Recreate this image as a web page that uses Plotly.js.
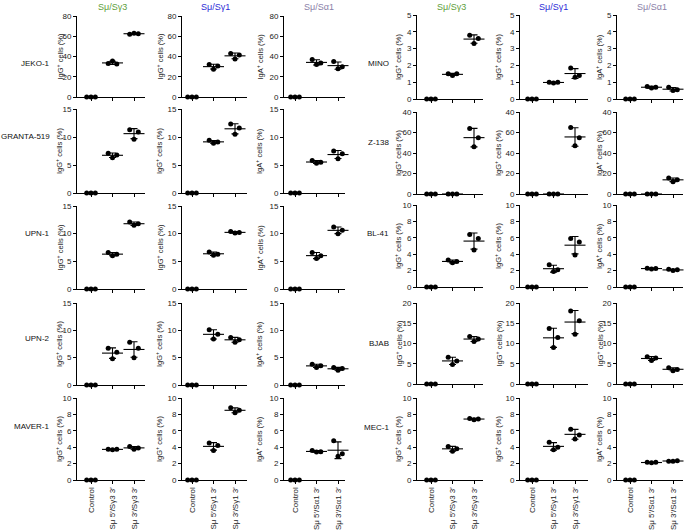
<!DOCTYPE html>
<html><head><meta charset="utf-8">
<script src="https://cdn.plot.ly/plotly-3.0.1.min.js"></script>
<style>body{margin:0;background:#fff}</style>
</head><body><div id="chart" style="width:685px;height:531px"></div>
<script>
const W = 685, H = 531;

// ---- text ----
const columnTitles = ['Sμ/Sγ3', 'Sμ/Sγ1', 'Sμ/Sα1', 'Sμ/Sγ3', 'Sμ/Sγ1', 'Sμ/Sα1'];
const leftCellLines = ['JEKO-1', 'GRANTA-519', 'UPN-1', 'UPN-2', 'MAVER-1'];
const rightCellLines = ['MINO', 'Z-138', 'BL-41', 'BJAB', 'MEC-1'];
const categoriesG3 = ['Control', 'Sμ 5′/Sγ3 3′', 'Sμ 3′/Sγ3 3′'];
const categoriesG1 = ['Control', 'Sμ 5′/Sγ1 3′', 'Sμ 3′/Sγ1 3′'];
const categoriesA1 = ['Control', 'Sμ 5′/Sα1 3′', 'Sμ 3′/Sα1 3′'];
const labelIgG = 'IgG<sup>+</sup> cells (%)';
const labelIgA = 'IgA<sup>+</sup> cells (%)';

// ---- values (% positive cells): [Control], [Sμ 5′/S 3′], [Sμ 3′/S 3′] ----
const jeko1_g3 = [[0,0,0],[33,35.5,32.5],[62,63,62.5]];
const jeko1_g1 = [[0,0,0],[32,27.5,30.5],[43,37.5,41.5]];
const jeko1_a1 = [[0,0,0],[37,32,33.5],[35,28,30]];
const granta_g3 = [[0,0,0],[7.1,6.3,6.8],[11.3,9.6,10.9]];
const granta_g1 = [[0,0,0],[9.4,8.9,9.1],[12.3,10.5,11.6]];
const granta_a1 = [[0,0,0],[5.8,5.3,5.5],[7.5,6.1,7.0]];
const upn1_g3 = [[0,0,0],[6.6,6.0,6.3],[12.1,11.5,11.8]];
const upn1_g1 = [[0,0,0],[6.7,6.1,6.3],[10.4,10.1,10.2]];
const upn1_a1 = [[0,0,0],[6.6,5.5,6.0],[11.2,10.0,10.6]];
const upn2_g3 = [[0,0,0],[6.7,4.8,6.0],[7.8,5.0,6.7]];
const upn2_g1 = [[0,0,0],[10.1,8.4,9.3],[8.7,7.8,8.3]];
const upn2_a1 = [[0,0,0],[3.8,3.2,3.5],[3.2,2.7,3.0]];
const maver1_g3 = [[0,0,0],[3.75,3.7,3.75],[4.1,3.75,3.9]];
const maver1_g1 = [[0,0,0],[4.5,3.6,4.2],[8.8,8.2,8.5]];
const maver1_a1 = [[0,0,0],[3.6,3.4,3.45],[4.8,2.9,3.2]];

const mino_g3 = [[0,0,0],[1.5,1.4,1.5],[3.8,3.3,3.6]];
const mino_g1 = [[0,0,0],[1.0,0.95,1.0],[1.85,1.3,1.4]];
const mino_a1 = [[0,0,0],[0.75,0.65,0.7],[0.7,0.5,0.55]];
const z138_g3 = [[0,0,0],[0,0,0],[64,46,55]];
const z138_g1 = [[0,0,0],[0,0,0],[65,47,55]];
const z138_a1 = [[0,0,0],[0,0,0],[15.5,12,14]];
const bl41_g3 = [[0,0,0],[3.3,2.95,3.1],[6.4,4.5,5.9]];
const bl41_g1 = [[0,0,0],[2.7,1.9,2.1],[5.9,3.9,5.5]];
const bl41_a1 = [[0,0,0],[2.3,2.2,2.25],[2.15,2.0,2.1]];
const bjab_g3 = [[0,0,0],[6.6,4.8,5.7],[11.7,10.5,11.1]];
const bjab_g1 = [[0,0,0],[13.7,9.0,11.5],[18.0,12.3,15.6]];
const bjab_a1 = [[0,0,0],[6.7,5.8,6.4],[4.0,3.3,3.6]];
const mec1_g3 = [[0,0,0],[4.1,3.5,3.8],[7.5,7.35,7.45]];
const mec1_g1 = [[0,0,0],[4.6,3.7,4.0],[6.2,5.0,5.5]];
const mec1_a1 = [[0,0,0],[2.15,2.1,2.15],[2.3,2.3,2.35]];

// ---- y scales per block row ----
const leftYTicks = [[0,20,40,60,80],[0,5,10,15],[0,5,10,15],[0,5,10,15],[0,2,4,6,8,10]];
const rightYTicks = [[0,1,2,3,4,5],[0,20,40,60,80],[0,2,4,6,8,10],[0,5,10,15,20],[0,2,4,6,8,10]];
const rightYTickText = [null, ['0','20','40','60','40'], null, null, null];

// ---- layout geometry (pixels) ----
const colX = [[77,145,91],[182,247,192],[284,345,295],[417,483,431],[520,588,532],[617,683,630]];
const catStep = 21.5;
const rowYLeft = [[16,97],[109,193],[206,289],[303,385],[398,480]];
const rowYRight = [[15,99],[112,194],[205,287],[303,384],[398,480]];
const yTitleX = [59,159,259,398,498,599];
const titleX = [112,215,319,451,553,652];
const titleColors = ['#5e9e3a','#2b2bd6','#8a80a8','#5e9e3a','#2b2bd6','#8a80a8'];
const leftLabelY = [63,136,233,338,426];
const rightLabelY = [63,143,234,343,427];
const jitter = [-0.2, 0, 0.2];

const panels = [
  [jeko1_g3, jeko1_g1, jeko1_a1, mino_g3, mino_g1, mino_a1],
  [granta_g3, granta_g1, granta_a1, z138_g3, z138_g1, z138_a1],
  [upn1_g3, upn1_g1, upn1_a1, bl41_g3, bl41_g1, bl41_a1],
  [upn2_g3, upn2_g1, upn2_a1, bjab_g3, bjab_g1, bjab_a1],
  [maver1_g3, maver1_g1, maver1_a1, mec1_g3, mec1_g1, mec1_a1]
];
const yLabels = [
  [labelIgG, labelIgG, labelIgA, labelIgG, labelIgG, labelIgA],
  [labelIgG, labelIgG, labelIgA, labelIgG, labelIgG, labelIgA],
  [labelIgG, labelIgG, labelIgA, labelIgG, labelIgG, labelIgA],
  [labelIgG, labelIgG, labelIgA, labelIgG, labelIgG, labelIgG],
  [labelIgG, labelIgG, labelIgA, labelIgG, labelIgG, labelIgA]
];
const colCategories = [categoriesG3, categoriesG1, categoriesA1, categoriesG3, categoriesG1, categoriesA1];

const FONT = 'Liberation Sans, Arial, sans-serif';
const traces = [];
const layout = {
  width: W, height: H,
  margin: {l:0, r:0, t:0, b:0},
  paper_bgcolor: '#fff', plot_bgcolor: 'rgba(0,0,0,0)',
  showlegend: false,
  font: {family: FONT, size: 8, color: '#222'},
  annotations: []
};

function mean(a){ return a.reduce((s,v)=>s+v,0)/a.length; }
function sd(a){ const m=mean(a); return Math.sqrt(a.reduce((s,v)=>s+(v-m)*(v-m),0)/(a.length-1)); }

for (let r = 0; r < 5; r++) {
  for (let c = 0; c < 6; c++) {
    const k = r*6 + c + 1;
    const xa = k === 1 ? 'x' : 'x' + k;
    const ya = k === 1 ? 'y' : 'y' + k;
    const right = c >= 3;
    const ry = right ? rowYRight[r] : rowYLeft[r];
    const ticks = right ? rightYTicks[r] : leftYTicks[r];
    const tickText = right && rightYTickText[r] ? rightYTickText[r] : ticks.map(String);
    const [x0, x1, c0] = colX[c];
    const data = panels[r][c];

    // dots
    const xs = [], ys = [];
    data.forEach((grp, g) => grp.forEach((v, i) => { xs.push(g + jitter[i]); ys.push(v); }));
    traces.push({type:'scatter', mode:'markers', x: xs, y: ys, xaxis: xa, yaxis: ya,
      cliponaxis: false, hoverinfo: 'skip',
      marker: {size: 5, color: '#000'}});
    // mean ± SD for treated groups
    const gx = [1, 2];
    traces.push({type:'scatter', mode:'markers', x: gx, y: gx.map(g => mean(data[g])),
      xaxis: xa, yaxis: ya, cliponaxis: false, hoverinfo: 'skip',
      marker: {symbol: 'line-ew', size: 15, line: {width: 1.1, color: '#000'}, color: '#000'},
      error_y: {type: 'data', array: gx.map(g => sd(data[g])), visible: true,
                width: 3.5, thickness: 1.1, color: '#000'}});

    const key = k === 1 ? '' : String(k);
    layout['xaxis' + key] = {
      domain: [x0 / W, x1 / W], anchor: ya,
      range: [(x0 - c0) / catStep, (x1 - c0) / catStep],
      showline: true, linecolor: '#000', linewidth: 1,
      showgrid: false, zeroline: false,
      ticks: 'outside', ticklen: 3, tickwidth: 1, tickcolor: '#000',
      tickmode: 'array', tickvals: [0, 1, 2], ticktext: colCategories[c],
      showticklabels: r === 4, tickangle: -90,
      tickfont: {size: 8, family: FONT, color: '#222'},
      fixedrange: true
    };
    layout['yaxis' + key] = {
      domain: [1 - ry[1] / H, 1 - ry[0] / H], anchor: xa,
      range: [0, ticks[ticks.length - 1]],
      showline: true, linecolor: '#000', linewidth: 1,
      showgrid: false, zeroline: false,
      ticks: 'outside', ticklen: 3, tickwidth: 1, tickcolor: '#000',
      tickmode: 'array', tickvals: ticks, ticktext: tickText,
      tickfont: {size: 8, family: FONT, color: '#222'},
      fixedrange: true
    };
    // y-axis title
    layout.annotations.push({
      xref: 'paper', yref: 'paper', x: yTitleX[c] / W, y: 1 - (ry[0] + ry[1]) / 2 / H,
      text: yLabels[r][c], textangle: -90, showarrow: false,
      xanchor: 'center', yanchor: 'middle', font: {size: 7.5, family: FONT, color: '#222'}
    });
  }
}

// column titles
columnTitles.forEach((t, c) => layout.annotations.push({
  xref: 'paper', yref: 'paper', x: titleX[c] / W, y: 1 - 7 / H, text: t, showarrow: false,
  xanchor: 'center', yanchor: 'middle', font: {size: 9, family: FONT, color: titleColors[c]}
}));
// cell-line labels
leftCellLines.forEach((t, r) => layout.annotations.push({
  xref: 'paper', yref: 'paper', x: 52 / W, y: 1 - leftLabelY[r] / H, text: t, showarrow: false,
  xanchor: 'right', yanchor: 'middle', font: {size: 8, family: FONT, color: '#111'}
}));
rightCellLines.forEach((t, r) => layout.annotations.push({
  xref: 'paper', yref: 'paper', x: 391 / W, y: 1 - rightLabelY[r] / H, text: t, showarrow: false,
  xanchor: 'right', yanchor: 'middle', font: {size: 8, family: FONT, color: '#111'}
}));

Plotly.newPlot('chart', traces, layout, {displayModeBar: false, staticPlot: true});
</script></body></html>
